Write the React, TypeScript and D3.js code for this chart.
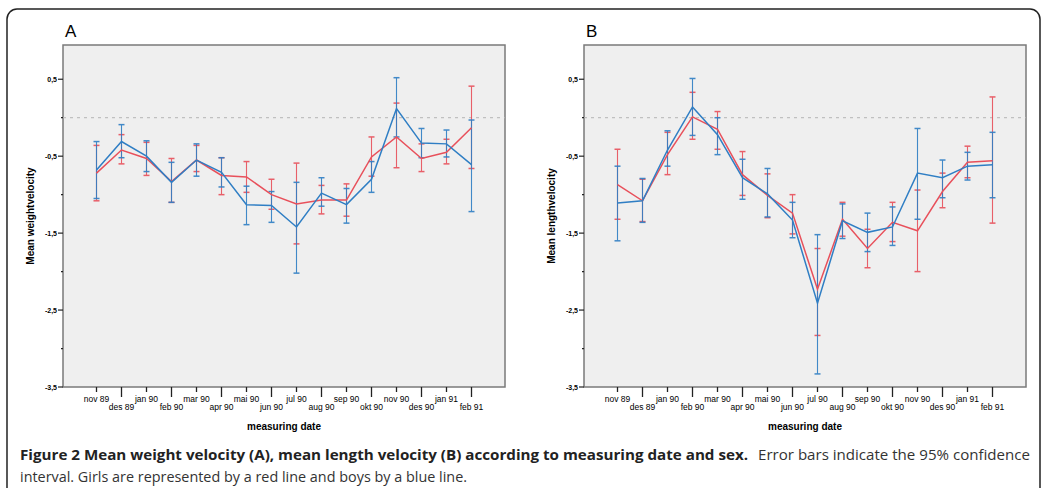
import React from 'react';
import * as d3 from 'd3';

const months = ['nov 89', 'des 89', 'jan 90', 'feb 90', 'mar 90', 'apr 90', 'mai 90', 'jun 90',
  'jul 90', 'aug 90', 'sep 90', 'okt 90', 'nov 90', 'des 90', 'jan 91', 'feb 91'];

const yTicks = [0.5, 0, -0.5, -1, -1.5, -2, -2.5, -3, -3.5];
const yLabels = [0.5, -0.5, -1.5, -2.5, -3.5];

// A: weight velocity
const weightGirlsMean = [-0.72, -0.42, -0.53, -0.83, -0.55, -0.75, -0.77, -1.0, -1.12, -1.07, -1.07, -0.51, -0.25, -0.53, -0.45, -0.13];
const weightGirlsLow = [-1.08, -0.6, -0.75, -1.1, -0.7, -1.0, -0.97, -1.19, -1.64, -1.25, -1.28, -0.76, -0.65, -0.7, -0.6, -0.66];
const weightGirlsHigh = [-0.36, -0.22, -0.32, -0.53, -0.36, -0.52, -0.57, -0.8, -0.59, -0.88, -0.86, -0.25, 0.19, -0.34, -0.28, 0.41];
const weightBoysMean = [-0.68, -0.31, -0.5, -0.84, -0.55, -0.71, -1.13, -1.14, -1.42, -0.98, -1.13, -0.8, 0.12, -0.33, -0.34, -0.61];
const weightBoysLow = [-1.05, -0.52, -0.7, -1.1, -0.76, -0.9, -1.39, -1.36, -2.02, -1.15, -1.37, -0.97, -0.25, -0.52, -0.51, -1.22];
const weightBoysHigh = [-0.31, -0.09, -0.3, -0.58, -0.34, -0.52, -0.89, -0.96, -0.84, -0.78, -0.92, -0.57, 0.52, -0.14, -0.16, -0.03];

// B: length velocity
const lengthGirlsMean = [-0.87, -1.08, -0.48, 0.01, -0.15, -0.74, -1.01, -1.24, -2.23, -1.32, -1.7, -1.36, -1.47, -0.96, -0.58, -0.56];
const lengthGirlsLow = [-1.32, -1.35, -0.74, -0.28, -0.41, -1.01, -1.3, -1.51, -2.83, -1.54, -1.95, -1.61, -2.0, -1.17, -0.78, -1.37];
const lengthGirlsHigh = [-0.41, -0.8, -0.19, 0.33, 0.08, -0.44, -0.73, -1.0, -1.7, -1.1, -1.45, -1.1, -0.94, -0.72, -0.37, 0.27];
const lengthBoysMean = [-1.11, -1.08, -0.42, 0.14, -0.22, -0.78, -0.99, -1.33, -2.41, -1.34, -1.49, -1.42, -0.72, -0.78, -0.63, -0.61];
const lengthBoysLow = [-1.6, -1.36, -0.63, -0.23, -0.48, -1.06, -1.29, -1.56, -3.33, -1.57, -1.74, -1.66, -1.32, -1.04, -0.81, -1.04];
const lengthBoysHigh = [-0.63, -0.79, -0.17, 0.51, 0.0, -0.54, -0.66, -1.1, -1.52, -1.12, -1.24, -1.16, -0.14, -0.55, -0.45, -0.19];

const RED = '#e8505b';
const BLUE = '#2f7ec4';
const chartFont = "'Liberation Sans', Arial, sans-serif";
const narrowFont = "'Liberation Sans Narrow', 'Liberation Sans', Arial, sans-serif";
const captionFont = "'Open Sans', sans-serif";

const top = 45;
const bottom = 387;
const plotW = 442;

type Series = { mean: number[]; low: number[]; high: number[]; color: string };

function Panel({ left, letter, yTitle, series }: { left: number; letter: string; yTitle: string; series: Series[] }) {
  const x = d3.scalePoint<string>().domain(months).range([left, left + plotW]).padding(1.34);
  const y = d3.scaleLinear().domain([-3.5, 0.945]).range([bottom, top]);
  const path = d3.line<number>().x((_, i) => x(months[i])!).y((d) => y(d));
  const fmt = (v: number) => String(v).replace('.', ',');

  return (
    <g>
      <text x={left + 2} y={top - 8} fontFamily={chartFont} fontSize={17}>{letter}</text>
      <rect x={left} y={top} width={plotW} height={bottom - top} fill="#efefef" stroke="#7a7a7a" strokeWidth={1.5} />
      <line x1={left} x2={left + plotW} y1={y(0)} y2={y(0)} stroke="#b4b4b4" strokeDasharray="3,4" strokeWidth={1} />
      {yTicks.map((t) => {
        const labeled = yLabels.includes(t);
        return (
          <g key={t}>
            <line x1={left - (labeled ? 5 : 2)} x2={left} y1={y(t)} y2={y(t)} stroke="#222" strokeWidth={1.2} />
            {labeled && (
              <text x={left - 6} y={y(t) + 2.5} textAnchor="end" fontFamily={chartFont} fontWeight="bold" fontSize={7}>{fmt(t)}</text>
            )}
          </g>
        );
      })}
      <text transform={`translate(${left - 29},${(top + bottom) / 2}) rotate(-90)`} textAnchor="middle"
        fontFamily={narrowFont} fontWeight="bold" fontSize={10}>{yTitle}</text>
      {months.map((m, i) => {
        const odd = i % 2 === 1;
        return (
          <g key={m}>
            <line x1={x(m)} x2={x(m)} y1={bottom} y2={bottom + (odd ? 10 : 5)} stroke="#222" strokeWidth={1.3} />
            <text x={x(m)} y={bottom + (odd ? 23 : 15)} textAnchor="middle" fontFamily={chartFont} fontSize={8.5}>{m}</text>
          </g>
        );
      })}
      <text x={left + plotW / 2} y={bottom + 43} textAnchor="middle" fontFamily={narrowFont} fontWeight="bold" fontSize={10}>measuring date</text>
      {series.map((s, si) => (
        <g key={si}>
          {months.map((m, i) => (
            <g key={m} stroke={s.color} strokeWidth={1.1} opacity={0.9}>
              <line x1={x(m)} x2={x(m)} y1={y(s.low[i])} y2={y(s.high[i])} />
              <line x1={x(m)! - 3} x2={x(m)! + 3} y1={y(s.low[i])} y2={y(s.low[i])} strokeWidth={1.5} />
              <line x1={x(m)! - 3} x2={x(m)! + 3} y1={y(s.high[i])} y2={y(s.high[i])} strokeWidth={1.5} />
            </g>
          ))}
        </g>
      ))}
      {series.map((s, si) => (
        <path key={si} d={path(s.mean)!} fill="none" stroke={s.color} strokeWidth={1.5} />
      ))}
    </g>
  );
}

export default function App() {
  return (
    <svg width={1045} height={488} style={{ position: 'absolute', left: 0, top: 0, background: '#fff' }}>
      <rect x={7} y={9} width={1033} height={500} rx={10} fill="#fff" stroke="#222" strokeWidth={1.5} />
      <Panel left={63} letter="A" yTitle="Mean weightvelocity" series={[
        { mean: weightGirlsMean, low: weightGirlsLow, high: weightGirlsHigh, color: RED },
        { mean: weightBoysMean, low: weightBoysLow, high: weightBoysHigh, color: BLUE },
      ]} />
      <Panel left={584} letter="B" yTitle="Mean lengthvelocity" series={[
        { mean: lengthGirlsMean, low: lengthGirlsLow, high: lengthGirlsHigh, color: RED },
        { mean: lengthBoysMean, low: lengthBoysLow, high: lengthBoysHigh, color: BLUE },
      ]} />
      <text x={20} y={460} fontFamily={captionFont} fontWeight="bold" fontSize={15} fill="#222"
        textLength={728} lengthAdjust="spacingAndGlyphs">
        Figure 2 Mean weight velocity (A), mean length velocity (B) according to measuring date and sex.
      </text>
      <text x={758} y={460} fontFamily={captionFont} fontSize={15} fill="#333"
        textLength={272} lengthAdjust="spacingAndGlyphs">
        Error bars indicate the 95% confidence
      </text>
      <text x={20} y={482} fontFamily={captionFont} fontSize={15} fill="#333"
        textLength={447} lengthAdjust="spacingAndGlyphs">
        interval. Girls are represented by a red line and boys by a blue line.
      </text>
    </svg>
  );
}
